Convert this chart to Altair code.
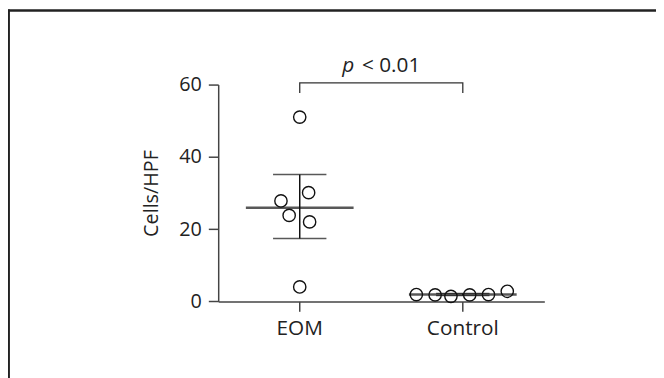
import altair as alt
import pandas as pd

# ---- data ----
groups = ["EOM", "Control"]
eom_values = [51.0, 27.8, 30.1, 23.8, 22.0, 4.0]
eom_jitter = [0, -19, 9, -10.7, 10, 0]
ctrl_values = [1.9, 1.8, 1.4, 1.8, 1.9, 2.8]
ctrl_jitter = [-47, -28, -12, 7, 26, 45]
means = [25.9, 1.9]
sem_lo = [17.4, 1.6]
sem_hi = [35.1, 2.2]
y_ticks = [0, 20, 40, 60]
bracket_x = ["EOM", "EOM", "Control", "Control"]
bracket_y = [57.7, 60.5, 60.5, 57.7]
p_label = "p"
p_rest = "< 0.01"

points = pd.DataFrame({
    "group": ["EOM"] * len(eom_values) + ["Control"] * len(ctrl_values),
    "value": eom_values + ctrl_values,
    "jit": eom_jitter + ctrl_jitter,
})
summary = pd.DataFrame({"group": groups, "mean": means, "lo": sem_lo, "hi": sem_hi})
bracket = pd.DataFrame({"group": bracket_x, "y": bracket_y, "order": [0, 1, 2, 3]})
one = pd.DataFrame({"k": [0]})

FONT = "Open Sans"
INK = "#222222"
AX = "#444444"
LEFT = 212.7

xenc = alt.X("group:N", sort=groups, title=None,
             scale=alt.Scale(domain=groups, paddingInner=0, paddingOuter=0),
             axis=alt.Axis(labelAngle=0, labelAlign="center", labelBaseline="top",
                           tickSize=10, labelPadding=7, labelFontSize=21))
yscale = alt.Scale(domain=[0, 60], nice=False)
yenc_axis = alt.Y("value:Q", scale=yscale, title="Cells/HPF",
                  axis=alt.Axis(values=y_ticks, tickSize=10, labelPadding=7,
                                titlePadding=18))

pts = alt.Chart(points).mark_point(
    shape="circle", filled=False, size=155, stroke="#111111", strokeWidth=1.4, opacity=1
).encode(
    x=xenc,
    xOffset=alt.XOffset("jit:Q", scale=alt.Scale(domain=[-82.5, 82.5])),
    y=yenc_axis,
)

mean_tick = alt.Chart(summary).mark_tick(
    size=109, thickness=2.6, color="#111111", orient="horizontal"
).encode(x=alt.X("group:N", sort=groups), y=alt.Y("mean:Q", scale=yscale))

cap_lo = alt.Chart(summary).mark_tick(
    size=54, thickness=1.5, color="#111111", orient="horizontal"
).encode(x=alt.X("group:N", sort=groups), y=alt.Y("lo:Q", scale=yscale))

cap_hi = alt.Chart(summary).mark_tick(
    size=54, thickness=1.5, color="#111111", orient="horizontal"
).encode(x=alt.X("group:N", sort=groups), y=alt.Y("hi:Q", scale=yscale))

err = alt.Chart(summary).mark_rule(strokeWidth=1.5, color="#111111").encode(
    x=alt.X("group:N", sort=groups), y=alt.Y("lo:Q", scale=yscale), y2="hi:Q"
)

br = alt.Chart(bracket).mark_line(color="#333333", strokeWidth=1.3, clip=False).encode(
    x=alt.X("group:N", sort=groups), y=alt.Y("y:Q", scale=yscale), order="order:Q"
)

ptxt = alt.Chart(one).mark_text(
    text=p_label, font=FONT, fontSize=21, fontStyle="italic", color=INK,
    align="left", baseline="alphabetic", dx=43, dy=-12.6
).encode(x=alt.datum("EOM"), y=alt.datum(60))

rtxt = alt.Chart(one).mark_text(
    text=p_rest, font=FONT, fontSize=21, color=INK,
    align="left", baseline="alphabetic", dx=63, dy=-12.6
).encode(x=alt.datum("EOM"), y=alt.datum(60))

frame_top = alt.Chart(one).mark_rule(color="#222222", strokeWidth=2.5).encode(
    x=alt.value(-LEFT), x2=alt.value(460), y=alt.value(-75)
)
frame_left = alt.Chart(one).mark_rule(color="#222222", strokeWidth=2.5).encode(
    x=alt.value(-LEFT + 0.7), y=alt.value(-76), y2=alt.value(320)
)

chart = alt.layer(
    frame_top, frame_left, br, err, cap_lo, cap_hi, pts, mean_tick, ptxt, rtxt
).properties(
    width=330, height=219.4,
    padding={"left": LEFT, "top": 75.3, "right": 113, "bottom": 75},
    autosize=alt.AutoSizeParams(type="none"),
    background="white",
).configure_view(stroke=None).configure_axis(
    grid=False, domainColor=AX, domainWidth=1.5, tickColor=AX, tickWidth=1.5,
    labelFont=FONT, labelFontSize=20, labelColor=INK,
    titleFont=FONT, titleFontSize=20, titleColor=INK, titleFontWeight="normal",
)

chart.save("out.html", embed_options={"renderer": "svg", "actions": False})
